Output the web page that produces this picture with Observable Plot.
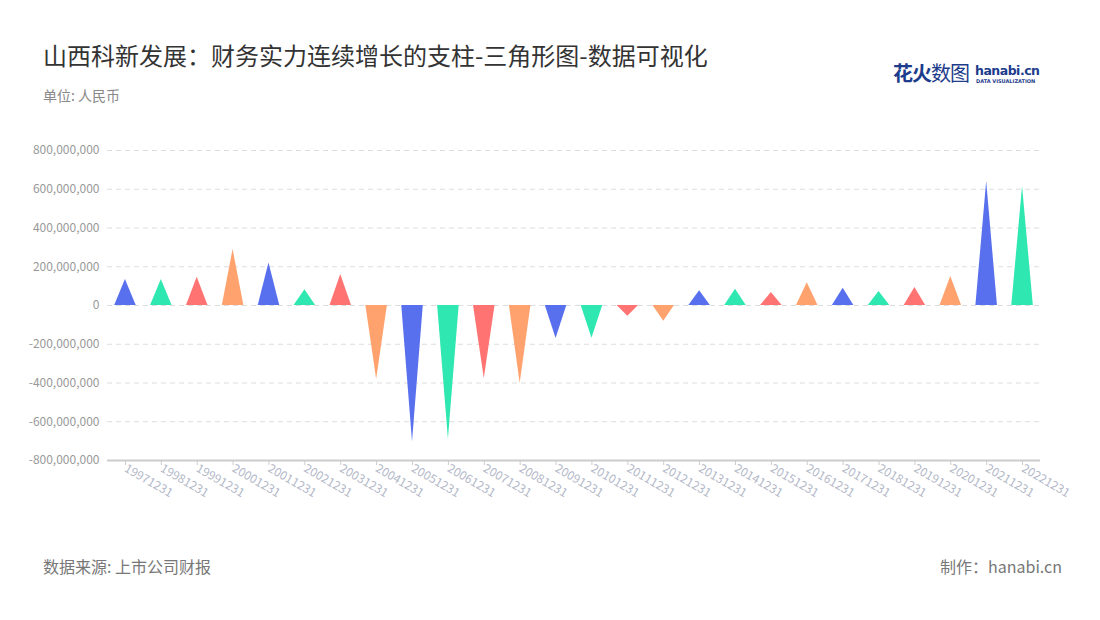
<!DOCTYPE html>
<html><head><meta charset="utf-8">
<script src="https://cdn.jsdelivr.net/npm/d3@7"></script>
<script src="https://cdn.jsdelivr.net/npm/@observablehq/plot@0.6"></script>
<style>
body{margin:0;background:#fff;font-family:"Noto Sans CJK SC","Noto Sans",sans-serif;}
#wrap{position:relative;width:1100px;height:620px;overflow:hidden;background:#fff;}
.t{position:absolute;white-space:nowrap;line-height:1.2;}
#chart{position:absolute;left:0;top:120px;}
</style></head>
<body><div id="wrap">
<div class="t" style="left:43px;top:41px;font-size:24px;color:#333;">山西科新发展：财务实力连续增长的支柱-三角形图-数据可视化</div>
<div class="t" style="left:43px;top:87px;font-size:14px;color:#888;">单位: 人民币</div>
<div class="t" style="left:893px;top:61px;font-size:20px;font-weight:bold;color:#1d3c8c;letter-spacing:-1px;">花火<span style="font-weight:normal">数图</span></div>
<div class="t" style="left:975px;top:63px;font-size:12.5px;font-weight:bold;color:#1d3c8c;font-family:'DejaVu Sans';letter-spacing:-0.5px;">hanabi.cn</div>
<div class="t" style="left:976px;top:78px;font-size:5px;font-weight:bold;color:#1d3c8c;font-family:'DejaVu Sans';">DATA VISUALIZATION</div>
<div id="chart"></div>
<div class="t" style="left:43px;top:557px;font-size:16px;color:#777;">数据来源: 上市公司财报</div>
<div class="t" style="right:38px;top:557px;font-size:16px;color:#777;">制作：hanabi.cn</div>
</div>
<script>
const categories = ["19971231","19981231","19991231","20001231","20011231","20021231","20031231","20041231","20051231","20061231","20071231","20081231","20091231","20101231","20111231","20121231","20131231","20141231","20151231","20161231","20171231","20181231","20191231","20201231","20211231","20221231"];
const values = [134e6,134e6,146e6,289e6,220e6,81e6,160e6,-382e6,-705e6,-690e6,-377e6,-403e6,-170e6,-169e6,-55e6,-81e6,76e6,84e6,67e6,117e6,89e6,72e6,93e6,150e6,640e6,614e6];
const palette = ["#5870ee","#2fe7b0","#ff7373","#ffa26e"];
const yTicks = [-800e6,-600e6,-400e6,-200e6,0,200e6,400e6,600e6,800e6];

const data = categories.map((c,i)=>({date:c, value:values[i], color:palette[i%4]}));

function triangles(index, scales, vals, dims, ctx) {
  const x = scales.x, y = scales.y;
  const bw = x.bandwidth ? x.bandwidth() : (x(categories[1]) - x(categories[0]));
  const w = bw * 0.6;
  const g = d3.create("svg:g");
  g.selectAll("path").data(data).join("path")
    .attr("fill", d => d.color)
    .attr("d", d => {
      const cx = x(d.date) + bw/2, y0 = y(0), y1 = y(d.value);
      return `M${cx - w/2},${y0}L${cx},${y1}L${cx + w/2},${y0}Z`;
    });
  return g.node();
}

const fmt = d => d.toLocaleString("en-US");
const chart = Plot.plot({
  width: 1100, height: 400,
  marginTop: 30, marginBottom: 60, marginLeft: 107, marginRight: 60,
  style: {fontFamily: "'Noto Sans CJK SC','Noto Sans',sans-serif", fontSize: "12px", color: "#999", background: "transparent"},
  x: {type: "band", domain: categories, padding: 0, round: false, label: null},
  y: {domain: [-800e6, 800e6], label: null},
  marks: [
    Plot.ruleY(yTicks, {stroke: "#ddd", strokeDasharray: "5,4"}),
    Plot.axisY({ticks: yTicks, tickFormat: fmt, tickSize: 0, tickPadding: 8, fill: "#999", label: null}),
    Plot.axisX({tickSize: 5, stroke: "#ccc", tickRotate: 30, fill: "#b3b8c8", tickPadding: 2, label: null, fontSize: 12}),
    triangles,
    Plot.ruleX([0], {frameAnchor: "left", stroke: "#ccc", strokeWidth: 2}),
    Plot.ruleY([-800e6], {stroke: "#ccc", strokeWidth: 2})
  ]
});
document.getElementById("chart").appendChild(chart);
</script>
</body></html>
